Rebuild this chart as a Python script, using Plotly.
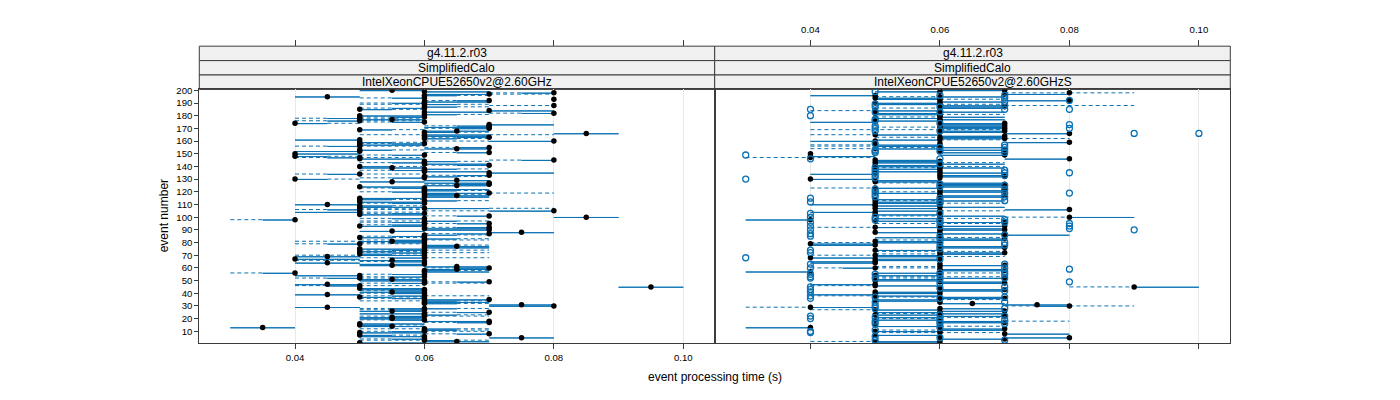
import plotly.graph_objects as go

# ---------------- data ----------------
events = list(range(1, 201))
tick_events = list(range(10, 201, 10))
x_ticks = [0.04, 0.06, 0.08, 0.10]
x_tick_text = ["0.04", "0.06", "0.08", "0.10"]

strip_rows = ["g4.11.2.r03", "SimplifiedCalo"]
panel_hosts = ["IntelXeonCPUE52650v2@2.60GHz", "IntelXeonCPUE52650v2@2.60GHzS"]

# left panel: five-number summaries per event (s)
L_med = [.05,.065,.06,.06,.075,.06,.05,.07,.05,.06,
         .06,.06,.035,.055,.05,.05,.07,.07,.06,.055,
         .055,.06,.06,.06,.07,.055,.06,.06,.045,.08,
         .075,.06,.06,.06,.07,.06,.05,.06,.045,.06,
         .055,.06,.06,.05,.095,.05,.045,.06,.07,.06,
         .055,.05,.06,.05,.06,.04,.06,.06,.065,.07,
         .065,.055,.06,.045,.06,.055,.04,.06,.045,.06,
         .05,.06,.05,.06,.05,.06,.065,.06,.05,.06,
         .055,.06,.06,.05,.06,.06,.07,.075,.055,.07,
         .06,.07,.05,.06,.07,.06,.06,.04,.06,.085,
         .07,.05,.06,.05,.08,.05,.06,.05,.05,.045,
         .06,.05,.06,.05,.05,.06,.065,.06,.07,.06,
         .06,.06,.06,.05,.065,.07,.07,.055,.065,.04,
         .06,.06,.07,.05,.07,.06,.06,.06,.055,.05,
         .07,.06,.06,.06,.08,.05,.05,.04,.06,.04,
         .07,.05,.05,.065,.07,.05,.05,.06,.05,.08,
         .05,.06,.07,.06,.06,.085,.06,.065,.05,.07,
         .07,.07,.07,.04,.06,.05,.055,.05,.06,.05,
         .06,.08,.06,.07,.05,.06,.06,.08,.06,.06,
         .06,.07,.08,.06,.045,.06,.07,.08,.06,.055]
L_wl = [.05,.06,.05,.05,.07,.05,.05,.06,.05,.05,
        .06,.05,.03,.05,.05,.05,.06,.06,.05,.05,
        .05,.05,.06,.05,.06,.05,.05,.05,.04,.07,
        .07,.06,.06,.05,.06,.05,.05,.05,.04,.05,
        .05,.05,.05,.05,.09,.04,.04,.05,.06,.05,
        .05,.04,.05,.04,.05,.03,.06,.06,.06,.06,
        .06,.05,.05,.04,.05,.04,.04,.05,.04,.04,
        .05,.05,.05,.05,.05,.06,.06,.06,.04,.05,
        .04,.05,.06,.05,.05,.06,.06,.07,.05,.06,
        .06,.06,.05,.05,.06,.05,.05,.03,.05,.08,
        .06,.05,.05,.04,.06,.04,.05,.05,.05,.04,
        .05,.05,.06,.05,.05,.06,.06,.06,.06,.05,
        .06,.06,.05,.05,.06,.06,.06,.05,.06,.04,
        .05,.06,.06,.04,.07,.06,.05,.06,.05,.05,
        .06,.06,.05,.06,.07,.05,.04,.04,.05,.04,
        .06,.04,.05,.06,.06,.04,.05,.05,.05,.06,
        .04,.06,.06,.06,.05,.08,.06,.06,.05,.06,
        .06,.06,.07,.04,.05,.04,.05,.04,.05,.05,
        .06,.07,.06,.07,.05,.05,.06,.07,.05,.05,
        .06,.06,.08,.05,.04,.06,.06,.07,.06,.05]
L_q1 = [.05,.06,.06,.055,.07,.05,.05,.065,.05,.055,
        .06,.06,.03,.05,.05,.05,.065,.06,.055,.05,
        .05,.055,.06,.05,.065,.05,.055,.055,.04,.07,
        .07,.06,.06,.06,.06,.055,.05,.055,.04,.055,
        .05,.055,.05,.05,.09,.045,.04,.055,.065,.05,
        .05,.045,.055,.04,.055,.035,.06,.06,.06,.065,
        .06,.05,.05,.04,.055,.05,.04,.055,.04,.05,
        .05,.055,.05,.055,.05,.06,.06,.06,.045,.055,
        .05,.055,.06,.05,.055,.06,.065,.07,.05,.06,
        .06,.065,.05,.055,.065,.055,.06,.035,.055,.08,
        .065,.05,.055,.04,.07,.045,.06,.05,.05,.04,
        .055,.05,.06,.05,.05,.06,.06,.06,.06,.055,
        .06,.06,.055,.05,.06,.065,.06,.05,.06,.04,
        .055,.06,.065,.045,.07,.06,.055,.06,.05,.05,
        .065,.06,.055,.06,.075,.05,.045,.04,.055,.04,
        .065,.04,.05,.06,.065,.045,.05,.055,.05,.07,
        .04,.06,.065,.06,.06,.08,.06,.06,.05,.065,
        .06,.065,.07,.04,.055,.045,.05,.045,.055,.05,
        .06,.075,.06,.07,.05,.055,.06,.08,.06,.055,
        .06,.065,.08,.055,.04,.06,.06,.075,.06,.05]
L_q3 = [.06,.07,.065,.06,.08,.06,.055,.07,.06,.06,
        .065,.065,.04,.06,.055,.06,.07,.07,.06,.06,
        .06,.06,.065,.06,.07,.06,.06,.065,.05,.08,
        .08,.065,.07,.065,.07,.06,.055,.06,.05,.06,
        .06,.06,.06,.06,.10,.05,.05,.06,.07,.06,
        .06,.05,.06,.05,.06,.04,.07,.065,.07,.07,
        .07,.06,.06,.05,.06,.06,.05,.06,.05,.06,
        .055,.06,.055,.06,.06,.07,.07,.065,.05,.06,
        .06,.06,.065,.055,.06,.065,.07,.08,.06,.07,
        .07,.07,.06,.06,.07,.06,.065,.04,.06,.09,
        .07,.06,.06,.05,.08,.05,.07,.06,.055,.05,
        .06,.06,.065,.055,.06,.07,.07,.065,.07,.06,
        .065,.07,.06,.06,.07,.07,.07,.06,.07,.045,
        .06,.065,.07,.05,.08,.07,.06,.065,.06,.055,
        .07,.07,.06,.065,.08,.06,.05,.045,.06,.05,
        .07,.05,.055,.07,.07,.05,.06,.06,.055,.08,
        .05,.065,.07,.07,.07,.09,.065,.07,.055,.07,
        .07,.07,.08,.045,.06,.05,.06,.05,.06,.06,
        .065,.08,.07,.08,.055,.06,.065,.08,.065,.06,
        .07,.07,.08,.06,.05,.065,.07,.08,.07,.06]
L_wu = [.06,.07,.07,.06,.08,.06,.06,.07,.06,.07,
        .07,.07,.04,.06,.06,.06,.07,.07,.06,.06,
        .06,.07,.07,.06,.07,.06,.06,.07,.05,.08,
        .08,.07,.07,.07,.07,.06,.06,.07,.05,.06,
        .06,.06,.06,.06,.10,.06,.05,.07,.07,.06,
        .06,.06,.06,.05,.06,.04,.07,.07,.07,.07,
        .07,.06,.06,.05,.06,.06,.05,.07,.05,.06,
        .06,.07,.06,.07,.06,.07,.07,.07,.06,.06,
        .06,.07,.07,.06,.06,.07,.07,.08,.06,.07,
        .07,.07,.06,.06,.07,.06,.07,.04,.06,.09,
        .07,.06,.06,.06,.08,.06,.08,.06,.06,.05,
        .06,.06,.07,.06,.06,.07,.07,.07,.08,.06,
        .07,.07,.06,.06,.07,.07,.07,.06,.07,.05,
        .06,.07,.07,.06,.08,.07,.06,.07,.06,.06,
        .07,.07,.06,.07,.08,.06,.06,.05,.06,.05,
        .07,.05,.06,.07,.07,.06,.06,.06,.06,.08,
        .05,.07,.07,.07,.08,.09,.07,.07,.06,.07,
        .07,.07,.08,.05,.06,.06,.06,.06,.06,.06,
        .07,.08,.07,.08,.06,.06,.07,.08,.07,.06,
        .07,.07,.08,.06,.05,.07,.08,.08,.07,.06]

# right panel
R_med = [.06,.05,.06,.07,.08,.06,.05,.07,.06,.05,
         .06,.07,.04,.06,.05,.06,.07,.06,.05,.06,
         .06,.07,.05,.06,.06,.07,.05,.06,.04,.08,
         .075,.065,.06,.05,.06,.07,.06,.05,.05,.06,
         .05,.06,.07,.06,.09,.05,.05,.07,.06,.05,
         .06,.07,.06,.05,.06,.06,.04,.07,.06,.05,
         .06,.07,.06,.05,.05,.06,.05,.04,.06,.05,
         .06,.07,.06,.05,.06,.07,.06,.05,.04,.06,
         .05,.06,.07,.06,.06,.07,.06,.05,.06,.07,
         .06,.05,.07,.06,.06,.07,.05,.04,.06,.08,
         .06,.05,.06,.05,.06,.08,.05,.06,.05,.05,
         .06,.05,.06,.05,.06,.06,.07,.06,.05,.06,
         .07,.06,.05,.07,.06,.07,.06,.05,.05,.04,
         .06,.07,.06,.05,.06,.05,.06,.05,.06,.06,
         .05,.06,.05,.06,.05,.08,.04,.04,.07,.04,
         .07,.06,.07,.05,.06,.06,.05,.06,.08,.05,
         .06,.07,.06,.07,.05,.08,.06,.07,.06,.07,
         .06,.07,.06,.07,.05,.06,.06,.05,.06,.06,
         .06,.05,.06,.05,.06,.06,.07,.06,.06,.05,
         .06,.08,.06,.05,.06,.05,.07,.08,.06,.07]
R_wl = [.05,.04,.06,.06,.07,.06,.05,.07,.05,.05,
        .05,.06,.03,.05,.05,.06,.06,.06,.05,.05,
        .05,.06,.05,.05,.05,.06,.04,.06,.03,.07,
        .07,.06,.06,.05,.05,.06,.05,.04,.04,.05,
        .05,.06,.06,.06,.08,.04,.04,.06,.06,.05,
        .05,.05,.05,.05,.06,.05,.03,.06,.06,.04,
        .05,.06,.06,.04,.04,.05,.05,.04,.05,.04,
        .05,.06,.05,.05,.06,.06,.06,.04,.04,.04,
        .05,.05,.06,.05,.06,.07,.06,.05,.06,.06,
        .06,.04,.06,.06,.05,.06,.05,.03,.05,.07,
        .05,.05,.06,.04,.05,.07,.05,.06,.05,.04,
        .05,.05,.05,.05,.06,.06,.06,.06,.05,.05,
        .06,.06,.04,.06,.06,.06,.05,.05,.05,.04,
        .06,.06,.06,.04,.06,.05,.06,.05,.05,.05,
        .05,.06,.05,.05,.05,.07,.03,.04,.06,.04,
        .06,.06,.06,.04,.05,.04,.04,.06,.07,.04,
        .05,.06,.05,.06,.04,.07,.06,.06,.04,.06,
        .05,.06,.06,.06,.04,.05,.06,.05,.05,.06,
        .05,.05,.06,.04,.06,.05,.06,.06,.05,.05,
        .06,.07,.05,.05,.05,.04,.07,.07,.05,.06]
R_q1 = [.05,.05,.06,.06,.07,.06,.05,.07,.06,.05,
        .06,.06,.03,.05,.05,.06,.06,.06,.05,.06,
        .05,.06,.05,.06,.05,.06,.05,.06,.04,.075,
        .07,.06,.06,.05,.05,.06,.06,.05,.04,.05,
        .05,.06,.06,.06,.09,.05,.04,.06,.06,.05,
        .05,.06,.06,.05,.06,.05,.03,.06,.06,.045,
        .06,.06,.06,.04,.04,.05,.05,.04,.05,.05,
        .06,.06,.06,.05,.06,.06,.06,.04,.04,.05,
        .05,.06,.06,.05,.06,.07,.06,.05,.06,.06,
        .06,.05,.06,.06,.06,.06,.05,.03,.05,.08,
        .06,.05,.06,.04,.05,.07,.05,.06,.05,.04,
        .05,.05,.06,.05,.06,.06,.06,.06,.05,.06,
        .06,.06,.05,.06,.06,.06,.06,.05,.05,.04,
        .06,.06,.06,.04,.06,.05,.06,.05,.06,.05,
        .05,.06,.05,.05,.05,.07,.04,.04,.06,.04,
        .06,.06,.06,.05,.06,.05,.05,.06,.07,.04,
        .05,.06,.06,.06,.05,.07,.06,.06,.06,.06,
        .06,.06,.06,.06,.04,.05,.06,.05,.06,.06,
        .05,.05,.06,.05,.06,.06,.06,.06,.05,.05,
        .06,.07,.05,.05,.06,.04,.07,.08,.05,.06]
R_q3 = [.06,.06,.06,.07,.08,.06,.06,.08,.06,.06,
        .07,.07,.04,.06,.05,.06,.07,.07,.06,.06,
        .06,.07,.06,.07,.06,.07,.06,.07,.05,.08,
        .08,.07,.06,.06,.06,.07,.07,.06,.05,.06,
        .06,.07,.07,.06,.10,.06,.05,.07,.07,.06,
        .06,.07,.06,.06,.06,.06,.04,.07,.07,.05,
        .06,.07,.06,.05,.05,.06,.06,.05,.06,.06,
        .07,.07,.06,.06,.06,.07,.07,.05,.05,.06,
        .06,.07,.07,.06,.06,.08,.07,.06,.06,.07,
        .07,.06,.07,.06,.06,.07,.06,.04,.06,.09,
        .07,.06,.06,.05,.06,.08,.06,.07,.06,.05,
        .06,.06,.07,.06,.06,.07,.07,.06,.06,.07,
        .07,.06,.06,.07,.07,.07,.07,.06,.06,.05,
        .06,.07,.07,.05,.07,.06,.06,.06,.07,.06,
        .06,.07,.06,.06,.06,.08,.04,.05,.07,.04,
        .07,.06,.07,.06,.07,.06,.06,.06,.08,.05,
        .06,.07,.07,.07,.06,.08,.07,.07,.06,.07,
        .07,.07,.07,.07,.05,.06,.07,.06,.07,.06,
        .06,.06,.07,.06,.06,.07,.07,.07,.06,.06,
        .07,.08,.06,.06,.07,.05,.08,.08,.06,.07]
R_wu = [.06,.06,.06,.07,.08,.06,.06,.08,.07,.06,
        .07,.07,.04,.07,.05,.06,.07,.08,.06,.06,
        .07,.07,.06,.07,.06,.07,.06,.07,.05,.09,
        .08,.07,.06,.06,.07,.07,.07,.06,.05,.06,
        .06,.07,.07,.06,.10,.06,.05,.07,.07,.06,
        .06,.07,.07,.06,.06,.07,.04,.07,.07,.06,
        .06,.07,.06,.05,.05,.06,.06,.05,.07,.06,
        .07,.07,.07,.06,.06,.07,.07,.05,.05,.06,
        .06,.07,.07,.07,.06,.08,.07,.06,.06,.07,
        .07,.06,.07,.06,.07,.07,.06,.04,.07,.09,
        .07,.06,.06,.05,.07,.08,.06,.07,.06,.05,
        .07,.06,.07,.06,.06,.07,.07,.06,.06,.07,
        .07,.06,.06,.07,.07,.07,.07,.06,.06,.05,
        .06,.07,.07,.05,.07,.06,.06,.06,.07,.07,
        .06,.07,.07,.06,.06,.08,.05,.05,.07,.04,
        .07,.06,.07,.06,.07,.06,.06,.06,.08,.05,
        .07,.08,.07,.07,.06,.08,.07,.07,.07,.07,
        .07,.07,.07,.07,.05,.06,.07,.06,.07,.06,
        .07,.06,.07,.06,.06,.07,.07,.09,.07,.06,
        .07,.08,.07,.06,.07,.05,.08,.09,.06,.07]

# right panel outliers: event numbers per outlying time value
R_out_times = [0.03, 0.04, 0.05, 0.06, 0.07, 0.08, 0.09, 0.10]
R_out_030 = [149, 130, 68]
R_out_040 = [185, 180, 146, 115, 112, 103, 100, 96, 93, 90, 87, 85, 74, 72, 63, 60,
             55, 53, 52, 45, 43, 41, 38, 36, 22, 20, 10, 9]
R_out_050 = [199, 189, 187, 183, 177, 176, 172, 170, 168, 158, 153, 152, 151, 139, 137,
             135, 133, 131, 122, 120, 118, 116, 100, 98, 55, 52, 37, 33, 30, 28, 21, 18,
             16, 11, 6, 3]
R_out_060 = [196, 187, 183, 174, 168, 155, 152, 146, 142, 126, 124, 115, 113, 111, 103,
             98, 96, 93, 85, 83, 80, 77, 75, 67, 56, 54, 51, 48, 44, 36, 23, 20, 18, 16,
             13, 5]
R_out_070 = [196, 194, 191, 188, 185, 157, 155, 153, 151, 137, 135, 133, 125, 122, 119,
             116, 113, 98, 96, 86, 80, 78, 63, 60, 57, 55, 52, 45, 42, 37, 33, 28, 22,
             19, 16, 3]
R_out_080 = [192, 185, 173, 170, 135, 119, 95, 93, 91, 59, 49]
R_out_090 = [166, 90]
R_out_100 = [166]
R_out_groups = [R_out_030, R_out_040, R_out_050, R_out_060, R_out_070, R_out_080,
                R_out_090, R_out_100]

# ---------------- style / layout constants ----------------
W, H = 1400, 400
BLUE = "#0b72b5"
FRAME = "#3c3c3c"
X_RANGE = [0.02521, 0.10485]
Y_RANGE = [0.45, 200.7]
PLOT_TOP, PLOT_BOT = 85.5, 342.7
PANEL_X = [(199.3, 714.7), (714.7, 1230.3)]
STRIP_TOP = 41.7
STRIP_H = (PLOT_TOP - STRIP_TOP) / 3.0
HALF_BOX = 0.25  # box.ratio = 1 -> half-height of box in event units


def px(x):
    return x / W


def py(y):
    return 1 - y / H


def panel_traces(med, wl, q1, q3, wu, xa, ya):
    wx, wy, bx, by = [], [], [], []
    for e, a, b, c, d in zip(events, wl, q1, q3, wu):
        if b > a:
            wx += [a, b, None]
            wy += [e, e, None]
        if d > c:
            wx += [c, d, None]
            wy += [e, e, None]
        bx += [b, c, c, b, b, None]
        by += [e - HALF_BOX, e - HALF_BOX, e + HALF_BOX, e + HALF_BOX, e - HALF_BOX, None]
    tr = [
        go.Scatter(x=wx, y=wy, mode="lines", xaxis=xa, yaxis=ya, hoverinfo="skip",
                   line=dict(color=BLUE, width=1, dash="4px,3px")),
        go.Scatter(x=bx, y=by, mode="lines", xaxis=xa, yaxis=ya, hoverinfo="skip",
                   line=dict(color=BLUE, width=1)),
        go.Scatter(x=med, y=events, mode="markers", xaxis=xa, yaxis=ya,
                   marker=dict(color="black", size=5.5, line=dict(width=0))),
    ]
    return tr


fig = go.Figure()
for t in panel_traces(L_med, L_wl, L_q1, L_q3, L_wu, "x", "y"):
    fig.add_trace(t)
for t in panel_traces(R_med, R_wl, R_q1, R_q3, R_wu, "x2", "y2"):
    fig.add_trace(t)

ox, oy = [], []
for tval, grp in zip(R_out_times, R_out_groups):
    for e in grp:
        ox.append(tval)
        oy.append(e)
fig.add_trace(go.Scatter(x=ox, y=oy, mode="markers", xaxis="x2", yaxis="y2",
                         marker=dict(symbol="circle-open", color=BLUE, size=6,
                                     line=dict(color=BLUE, width=1.3))))

# invisible carriers so the top (free) axes are drawn
fig.add_trace(go.Scatter(x=L_med, y=events, mode="markers", xaxis="x3", yaxis="y",
                         marker=dict(opacity=0), hoverinfo="skip"))
fig.add_trace(go.Scatter(x=R_med, y=events, mode="markers", xaxis="x4", yaxis="y2",
                         marker=dict(opacity=0), hoverinfo="skip"))

tickfont = dict(family="Liberation Sans, Arial, sans-serif", size=9.6, color="black")
common_x = dict(range=X_RANGE, tickvals=x_ticks, ticktext=x_tick_text, zeroline=False,
                ticks="outside", tickwidth=1, tickcolor=FRAME, tickfont=tickfont,
                fixedrange=True)
ydom = [py(PLOT_BOT), py(PLOT_TOP)]

fig.update_layout(
    width=W, height=H, autosize=False,
    margin=dict(l=0, r=0, t=0, b=0, pad=0),
    paper_bgcolor="white", plot_bgcolor="white", showlegend=False,
    font=dict(family="Liberation Sans, Arial, sans-serif", size=12, color="black"),
    xaxis=dict(domain=[px(PANEL_X[0][0]), px(PANEL_X[0][1])], anchor="y", ticklen=5,
               showline=True, linecolor=FRAME, linewidth=1, mirror=True,
               showgrid=True, gridcolor="#e9e9e9", gridwidth=1, **common_x),
    xaxis2=dict(domain=[px(PANEL_X[1][0]), px(PANEL_X[1][1])], anchor="y2", ticklen=5,
                showline=True, linecolor=FRAME, linewidth=1, mirror=True,
                showgrid=True, gridcolor="#e9e9e9", gridwidth=1,
                showticklabels=False, **common_x),
    xaxis3=dict(overlaying="x", side="top", anchor="free", position=py(STRIP_TOP),
                ticklen=6, showline=False, showgrid=False, showticklabels=False, **common_x),
    xaxis4=dict(overlaying="x2", side="top", anchor="free", position=py(STRIP_TOP),
                ticklen=6, ticklabelstandoff=3,
                showline=False, showgrid=False, showticklabels=True, **common_x),
    yaxis=dict(domain=ydom, anchor="x", range=Y_RANGE, tickvals=tick_events,
               ticktext=[str(v) for v in tick_events], ticks="outside", ticklen=4,
               tickcolor=FRAME, tickfont=tickfont, showline=True, linecolor=FRAME,
               linewidth=1, mirror=True, showgrid=False, zeroline=False, fixedrange=True),
    yaxis2=dict(domain=ydom, anchor="x2", range=Y_RANGE, showticklabels=False, ticks="",
                showline=True, linecolor=FRAME, linewidth=1, mirror=True,
                showgrid=False, zeroline=False, fixedrange=True),
)

shapes, annotations = [], []
for (x0, x1), host in zip(PANEL_X, panel_hosts):
    labels = strip_rows + [host]
    for i, lab in enumerate(labels):
        y0 = STRIP_TOP + i * STRIP_H
        y1 = y0 + STRIP_H
        shapes.append(dict(type="rect", xref="paper", yref="paper",
                           x0=px(x0), x1=px(x1), y0=py(y1), y1=py(y0),
                           fillcolor="#f0f0f0", line=dict(color=FRAME, width=1),
                           layer="below"))
        annotations.append(dict(xref="paper", yref="paper", x=px((x0 + x1) / 2),
                                y=py((y0 + y1) / 2), text=lab, showarrow=False,
                                xanchor="center", yanchor="middle",
                                font=dict(size=12, color="black")))

annotations.append(dict(xref="paper", yref="paper", x=px(714.7), y=py(377),
                        text="event processing time (s)", showarrow=False,
                        xanchor="center", yanchor="middle", font=dict(size=12)))
annotations.append(dict(xref="paper", yref="paper", x=px(164), y=py(214),
                        text="event number", showarrow=False, textangle=-90,
                        xanchor="center", yanchor="middle", font=dict(size=12)))

fig.update_layout(shapes=shapes, annotations=annotations)
fig.write_html("out.html", config={"displayModeBar": False},
               post_script="document.body.style.margin='0';document.body.style.overflow='hidden';")
